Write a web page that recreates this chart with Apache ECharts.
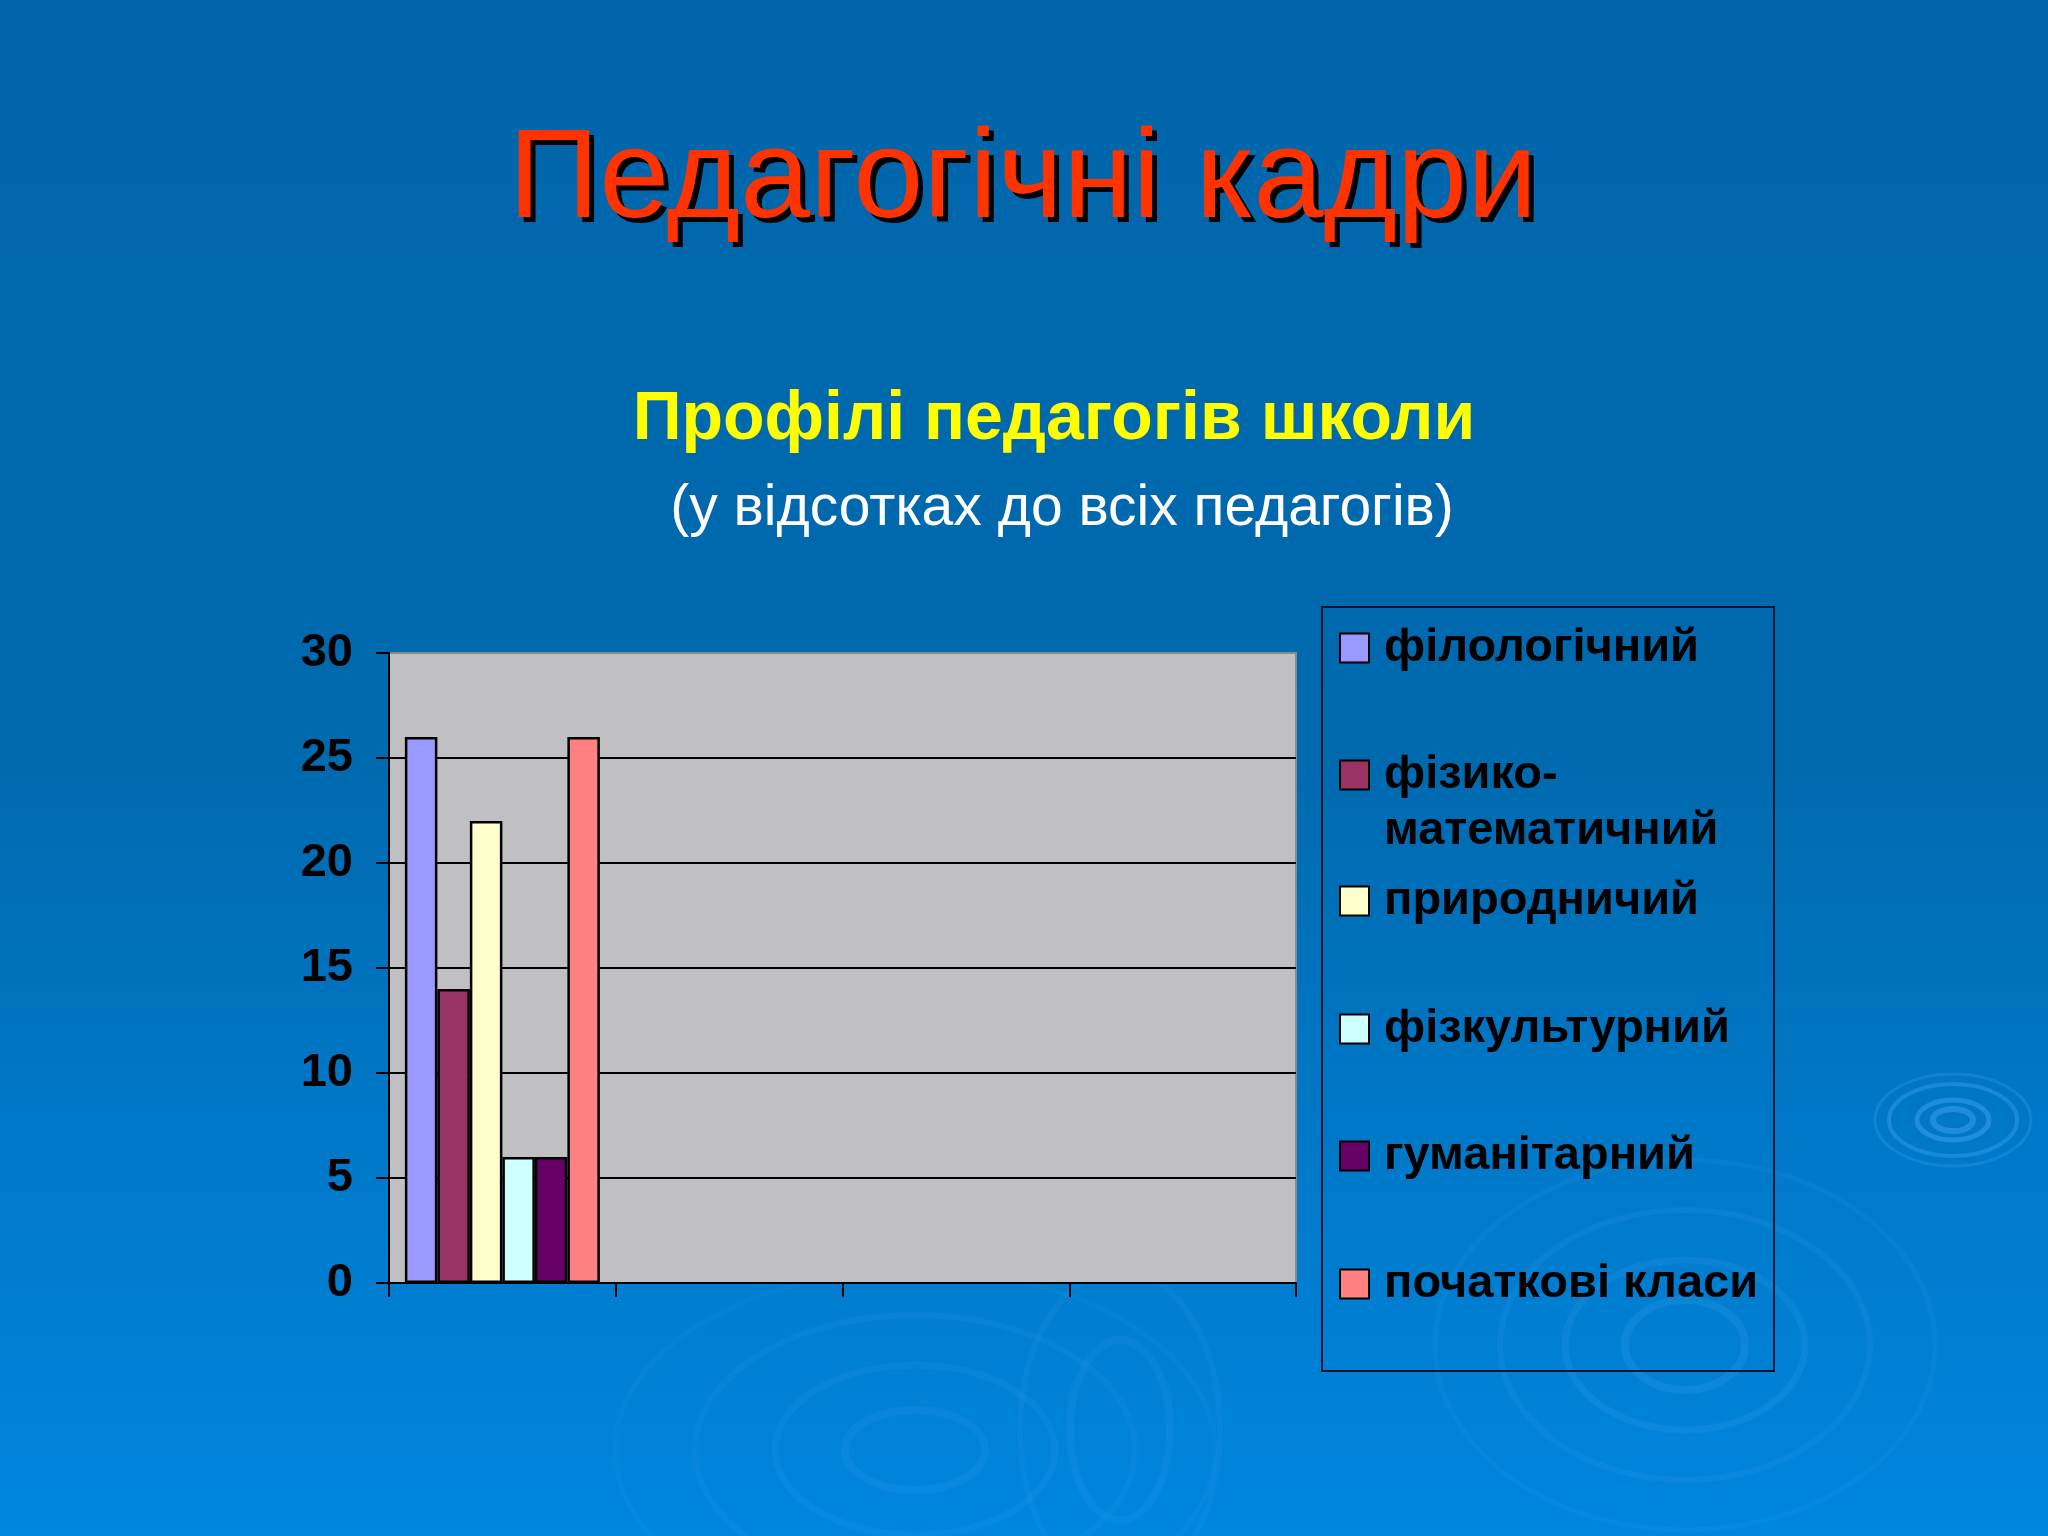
<!DOCTYPE html>
<html><head><meta charset="utf-8">
<script src="https://cdn.jsdelivr.net/npm/echarts@6/dist/echarts.min.js"></script>
<style>html,body{margin:0;padding:0;width:2048px;height:1536px;overflow:hidden;background:#0070bb}#c{width:2048px;height:1536px}</style>
</head><body><div id="c"></div><script>
const categories = ['', '', '', ''];
const seriesNames = ['філологічний', 'фізико-математичний', 'природничий', 'фізкультурний', 'гуманітарний', 'початкові класи'];
const seriesValues = [26, 14, 22, 6, 6, 26];
const seriesColors = ['#9999ff', '#993366', '#ffffcc', '#ccffff', '#660066', '#ff8080'];
const yMin = 0, yMax = 30, yStep = 5;
const titleText = 'Педагогічні кадри';
const subTitle1 = 'Профілі педагогів школи';
const subTitle2 = '(у відсотках до всіх педагогів)';

const FONT = '"Liberation Sans", Arial, sans-serif';
const chart = echarts.init(document.getElementById('c'), null, {renderer: 'canvas'});

const series = seriesNames.map((n, i) => ({
  name: n, type: 'bar',
  data: categories.map((c, j) => j === 0 ? seriesValues[i] : '-'),
  itemStyle: {color: seriesColors[i], borderColor: '#000', borderWidth: 2.5},
  barGap: '0%', barCategoryGap: '14%',
  emphasis: {disabled: true}
}));

const iconCenters = [648, 775, 901, 1029, 1156, 1284];
const legends = seriesNames.map((n, i) => {
  const two = (i === 1);
  const lh = two ? 56 : 47;
  return {
    show: true, orient: 'vertical', left: 1339,
    top: two ? iconCenters[i] - lh * 1.5 : iconCenters[i] - lh / 2,
    padding: 0, itemWidth: 29, itemHeight: 29, itemGap: 0, icon: 'rect',
    selectedMode: false,
    data: [{name: n}],
    formatter: name => name === 'фізико-математичний' ? '\nфізико-\nматематичний' : name,
    textStyle: {fontFamily: FONT, fontWeight: 'bold', fontSize: 47, color: '#000',
      lineHeight: lh, padding: [0, 0, 0, 10]},
    itemStyle: {borderColor: '#000', borderWidth: 2}
  };
});

function ring(cx, cy, rx, ry, w, op) {
  return {type: 'ellipse', z: -100, silent: true, shape: {cx, cy, rx, ry},
    style: {fill: 'none', stroke: 'rgba(90,180,255,' + op + ')', lineWidth: w}};
}
const ripples = [
  ring(1953, 1120, 20, 11, 6, 0.35), ring(1953, 1120, 36, 20, 5, 0.35), ring(1953, 1120, 64, 36, 4, 0.3), ring(1953, 1120, 78, 46, 3, 0.2),
  ring(1685, 1345, 60, 45, 8, 0.14), ring(1685, 1345, 120, 85, 7, 0.12), ring(1685, 1345, 185, 135, 6, 0.1), ring(1685, 1345, 250, 185, 5, 0.08),
  ring(1120, 1430, 50, 90, 8, 0.09), ring(1120, 1430, 100, 160, 6, 0.08),
  ring(915, 1450, 70, 40, 8, 0.1), ring(915, 1450, 140, 85, 7, 0.09), ring(915, 1450, 220, 135, 6, 0.08), ring(915, 1450, 300, 180, 5, 0.06)
];

const option = {
  backgroundColor: {type: 'linear', x: 0, y: 0, x2: 0, y2: 1,
    colorStops: [{offset: 0, color: '#0066ab'}, {offset: 0.5, color: '#006aaf'}, {offset: 0.72, color: '#0077c6'}, {offset: 1, color: '#0086de'}]},
  animation: false,
  grid: {left: 389, right: 752, top: 653, bottom: 253, show: true, backgroundColor: '#c0bfc1', borderColor: '#8a8a8a', borderWidth: 2, containLabel: false},
  xAxis: {type: 'category', data: categories, boundaryGap: true,
    axisLine: {show: true, lineStyle: {color: '#000', width: 2}},
    axisTick: {show: true, length: 14, alignWithLabel: false, lineStyle: {color: '#000', width: 2}},
    axisLabel: {show: false}, splitLine: {show: false}},
  yAxis: {type: 'value', min: yMin, max: yMax, interval: yStep,
    axisLine: {show: true, lineStyle: {color: '#000', width: 2}},
    axisTick: {show: true, length: 13, inside: false, lineStyle: {color: '#000', width: 2}},
    axisLabel: {show: true, margin: 36, fontFamily: FONT, fontWeight: 'bold', fontSize: 47, color: '#000'},
    splitLine: {show: true, showMaxLine: false, lineStyle: {color: '#000', width: 2}}},
  legend: legends,
  series: series,
  graphic: ripples.concat([
    {type: 'rect', z: 10, silent: true, shape: {x: 1322, y: 607, width: 452, height: 764}, style: {fill: 'none', stroke: '#061530', lineWidth: 2}},
    {type: 'text', z: 10, silent: true, x: 1028, y: 187, style: {text: titleText, font: '126px ' + FONT, fill: '#000', align: 'center', verticalAlign: 'middle'}},
    {type: 'text', z: 11, silent: true, x: 1023, y: 182, style: {text: titleText, font: '126px ' + FONT, fill: '#ff3300', align: 'center', verticalAlign: 'middle'}},
    {type: 'text', z: 10, silent: true, x: 1054, y: 420, style: {text: subTitle1, font: 'bold 68px ' + FONT, fill: '#ffff00', align: 'center', verticalAlign: 'middle'}},
    {type: 'text', z: 10, silent: true, x: 1062, y: 509, style: {text: subTitle2, font: '57px ' + FONT, fill: '#ffffff', align: 'center', verticalAlign: 'middle'}}
  ])
};
chart.setOption(option);
</script></body></html>
